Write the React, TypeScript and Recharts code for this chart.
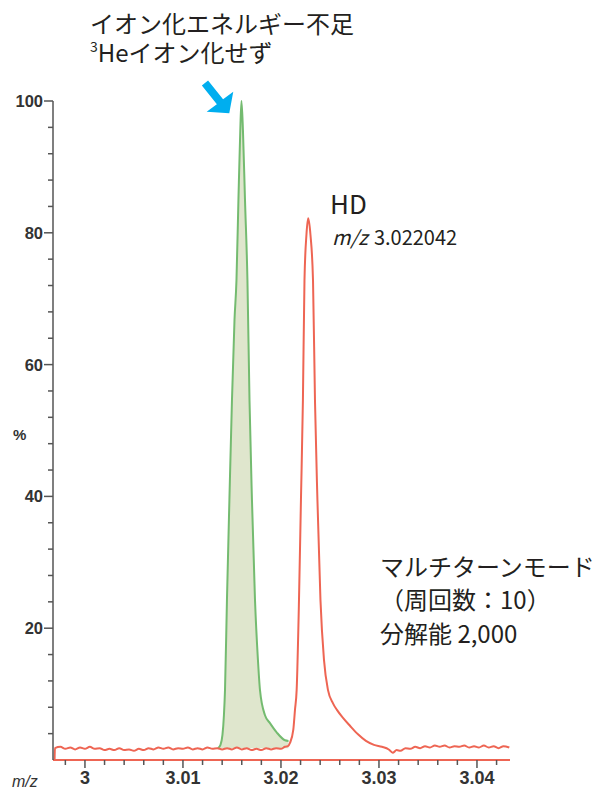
import { ComposedChart, Line, Area, XAxis, YAxis, ReferenceDot } from "recharts";

// x axis: minor ticks every 0.002, labels on the 0.01 ones
const xTicks = [
  2.998, 3.0, 3.002, 3.004, 3.006, 3.008, 3.01, 3.012, 3.014, 3.016, 3.018, 3.02,
  3.022, 3.024, 3.026, 3.028, 3.03, 3.032, 3.034, 3.036, 3.038, 3.04, 3.042,
];
const xMajor = [3, 3.01, 3.02, 3.03, 3.04];
const xLabels = ["3", "3.01", "3.02", "3.03", "3.04"];

// y axis: minor ticks every 4 %, labels every 20 %
const yTicks = [4, 8, 12, 16, 20, 24, 28, 32, 36, 40, 44, 48, 52, 56, 60, 64, 68, 72, 76, 80, 84, 88, 92, 96, 100];
const yMajor = [20, 40, 60, 80, 100];

// green peak (3He, not ionised)
const greenMz = [
  3.01357, 3.01383, 3.01403, 3.01418, 3.01429, 3.01449, 3.01474, 3.015, 3.01526, 3.01546,
  3.01566, 3.01585, 3.01597, 3.01612, 3.01633, 3.01658, 3.01679, 3.01704, 3.01735, 3.01765,
  3.01786, 3.01837, 3.01888, 3.01956, 3.02041, 3.02077,
];
const greenPct = [
  1.8, 2.3, 3.8, 6.8, 10.6, 24.3, 39.5, 54.6, 66.8, 72.8,
  85, 95.6, 100, 95.6, 85, 72.8, 54.6, 39.5, 24.3, 15.2,
  10.6, 6.8, 5.6, 4.2, 3.0, 2.9,
];

// red trace (HD)
const redMz = [
  2.9969, 2.99694, 2.9975, 2.998, 2.9985, 2.999, 2.9995, 3.0, 3.0005, 3.001, 3.0015, 3.002,
  3.0025, 3.003, 3.0035, 3.004, 3.0045, 3.005, 3.0055, 3.006, 3.0065, 3.007, 3.0075, 3.008,
  3.0085, 3.009, 3.0095, 3.01, 3.0105, 3.011, 3.0115, 3.012, 3.0125, 3.013, 3.0135, 3.014,
  3.0145, 3.015, 3.0155, 3.016, 3.0165, 3.017, 3.0175, 3.018, 3.0185, 3.019, 3.0195, 3.02,
  3.02041, 3.02071, 3.02092, 3.02126, 3.02143, 3.0216, 3.02184, 3.02204, 3.02224, 3.0224,
  3.0226, 3.02278, 3.02301, 3.02327, 3.02347, 3.02372, 3.02403, 3.02439, 3.0248, 3.02531,
  3.02571, 3.02633, 3.02704, 3.02786, 3.02867, 3.02949, 3.0303, 3.031, 3.0314, 3.0318,
  3.0322, 3.0327, 3.0332, 3.0337, 3.0342, 3.0347, 3.0352, 3.0357, 3.0362, 3.0367, 3.0372,
  3.0377, 3.0382, 3.0387, 3.0392, 3.0397, 3.0402, 3.0407, 3.0412, 3.0417, 3.0422, 3.0427,
  3.0433,
];
const redPct = [
  0, 1.8, 2.0, 1.7, 1.9, 1.6, 1.9, 1.7, 2.0, 1.7, 1.8, 1.5,
  1.7, 1.5, 1.8, 1.5, 1.6, 1.4, 1.7, 1.5, 1.8, 1.6, 1.9, 1.7,
  1.9, 1.6, 1.8, 1.7, 1.9, 1.6, 1.8, 1.6, 1.9, 1.7, 1.8, 1.6,
  1.8, 1.6, 1.9, 1.6, 1.8, 1.5, 1.7, 1.5, 1.8, 1.6, 1.8, 1.7,
  2.0, 2.1, 2.6, 4.6, 7.6, 10.6, 24.3, 39.5, 54.6, 72.8,
  79.7, 82.2, 79.7, 72.8, 54.6, 39.5, 24.3, 15.2, 10.6, 8.6,
  7.6, 6.4, 5.2, 3.9, 2.9, 2.3, 2.0, 1.6, 1.1, 1.5,
  1.4, 1.8, 1.7, 2.0, 1.8, 2.1, 1.9, 2.2, 2.0, 2.2, 1.9,
  2.1, 2.0, 2.2, 1.9, 2.1, 1.9, 2.2, 1.9, 2.1, 1.8, 2.1,
  1.9,
];

const greenData = greenMz.map((mz, i) => ({ mz, v: greenPct[i] }));
const redData = redMz.map((mz, i) => ({ mz, v: redPct[i] }));

const RED = "#ee6553";
const GREEN = "#74bb70";
const AXIS = "#555";
const JP = "'Noto Sans CJK JP', 'Noto Sans', sans-serif";

function XTick({ x, y, payload }: any) {
  const idx = xMajor.findIndex((m) => Math.abs(m - payload.value) < 1e-7);
  const major = idx >= 0;
  return (
    <g>
      <line x1={x} x2={x} y1={y} y2={y + (major ? 8 : 5)} stroke={AXIS} strokeWidth={1.5} />
      {major && (
        <text x={x} y={y + 24} textAnchor="middle" fontFamily="'Liberation Sans', Arial" fontWeight="bold" fontSize={18} fill="#333">
          {xLabels[idx]}
        </text>
      )}
    </g>
  );
}

function YTick({ x, y, payload }: any) {
  const major = yMajor.includes(payload.value);
  return (
    <g>
      <line x1={x - (major ? 9 : 5)} x2={x} y1={y} y2={y} stroke={AXIS} strokeWidth={1.5} />
      {major && (
        <text x={x - 10} y={y + 6} textAnchor="end" fontFamily="'Liberation Sans', Arial" fontWeight="bold" fontSize={16.5} fill="#333">
          {payload.value}
        </text>
      )}
    </g>
  );
}

function Arrow({ cx, cy }: any) {
  const pts = [
    [-33.4, -20.5], [-18.4, -1.8], [-8.2, -9.3], [-12.2, 12.3],
    [-34.8, 10.7], [-24.6, 3.2], [-39.6, -15.5],
  ]
    .map(([dx, dy]) => `${cx + dx},${cy + dy}`)
    .join(" ");
  return <polygon points={pts} fill="#00aeef" />;
}

export default function App() {
  return (
    <div style={{ position: "absolute", left: 0, top: 0, width: 595, height: 787, background: "#fff" }}>
      <ComposedChart width={595} height={787} margin={{ top: 101, right: 85, left: 0, bottom: 0 }}>
        <XAxis
          dataKey="mz"
          type="number"
          domain={[2.99674, 3.04337]}
          allowDataOverflow
          ticks={xTicks}
          interval={0}
          tickLine={false}
          tickSize={0}
          tickMargin={0}
          tick={(p: any) => <XTick {...p} />}
          axisLine={{ stroke: RED, strokeWidth: 2 }}
          height={27}
        />
        <YAxis
          type="number"
          domain={[0, 100]}
          ticks={yTicks}
          interval={0}
          tickLine={false}
          tickSize={0}
          tickMargin={0}
          tick={(p: any) => <YTick {...p} />}
          axisLine={{ stroke: AXIS, strokeWidth: 1.5 }}
          width={53}
        />
        <Area
          data={greenData}
          dataKey="v"
          type="monotone"
          baseValue={1.8}
          stroke={GREEN}
          strokeWidth={2}
          fill="#dfe6cd"
          fillOpacity={1}
          dot={false}
          isAnimationActive={false}
        />
        <Line
          data={redData}
          dataKey="v"
          type="monotone"
          stroke={RED}
          strokeWidth={2}
          dot={false}
          isAnimationActive={false}
        />
        <ReferenceDot x={3.01597} y={100} ifOverflow="visible" shape={(p: any) => <Arrow {...p} />} />
      </ComposedChart>
      <svg width={595} height={787} style={{ position: "absolute", left: 0, top: 0, pointerEvents: "none" }}>
        <g fontFamily={JP} fill="#231f20">
          <text x={90} y={33} fontSize={24}>イオン化エネルギー不足</text>
          <text x={90} y={62} fontSize={24}>
            <tspan fontSize={14} dy={-10}>3</tspan>
            <tspan dy={10}>Heイオン化せず</tspan>
          </text>
          <text x={330} y={214} fontSize={26}>HD</text>
          <text x={332} y={245} fontSize={20}>
            <tspan fontStyle="italic">m/z</tspan>
            <tspan dx={6}>3.022042</tspan>
          </text>
          <text x={380} y={576} fontSize={24}>マルチターンモード</text>
          <text x={380} y={609} fontSize={24}>（周回数：10）</text>
          <text x={380} y={643} fontSize={24}>分解能 2,000</text>
        </g>
        <text x={13} y={440} fontFamily="'Liberation Sans', Arial" fontWeight="bold" fontSize={15} fill="#333">%</text>
        <text x={12} y={787} fontFamily="'Liberation Sans', Arial" fontStyle="italic" fontSize={16} fill="#333">m/z</text>
      </svg>
    </div>
  );
}
